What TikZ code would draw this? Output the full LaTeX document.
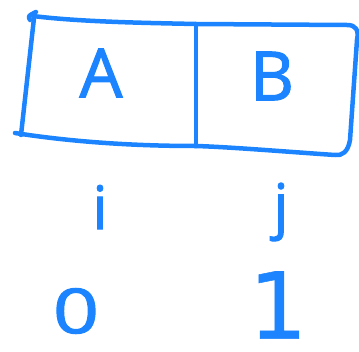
\documentclass[tikz,border=0pt]{standalone}
\usepackage{fontspec}
\newfontfamily\handfont[FakeBold=1.6]{Open Sans}
\newfontfamily\dejavu[FakeBold=0.6]{DejaVu Sans}
\definecolor{ink}{RGB}{28,132,255}
\begin{document}
\begin{tikzpicture}[x=1pt,y=-1pt,
  pen/.style={draw=ink,line width=4.5pt,line cap=round,line join=round},
  hand/.style={text=ink,inner sep=0pt,font=\fontsize{#1}{#1}\selectfont\handfont},
  hand/.default=66]
\useasboundingbox (0,0) rectangle (359,351);
% box
\coordinate (tl) at (33,16);
\coordinate (tm) at (196,24);
\coordinate (tr) at (347,25);
\coordinate (bl) at (15,133);
\coordinate (bm) at (196,146);
\coordinate (br) at (335,155);
\draw[pen] (30,20) .. controls (28,16) .. (36,12);
\draw[pen] (tl) .. controls (80,22) and (150,23) .. (tm) -- (tr)
  .. controls (356,25) and (359,30) .. (357,40)
  -- (350,140) .. controls (348,152) and (342,156) .. (br)
  .. controls (290,152) and (230,147) .. (bm)
  .. controls (120,146) and (60,140) .. (bl);
\draw[pen] (34,18) -- (21,135);
\draw[pen] (tm) -- (bm);
% labels
\node[hand=68] (A) at (101,73) {A};
\node[hand=68] (B) at (272,76) {B};
\node[hand=60] (i) at (100,207) {i};
\node[hand=60] (j) at (281,212) {j};
\node[hand=62,xscale=1.3] (zero) at (76,311) {0};
\node[text=ink,inner sep=0pt,font=\fontsize{92}{92}\selectfont\dejavu] (one) at (278,305) {1};
\end{tikzpicture}
\end{document}
